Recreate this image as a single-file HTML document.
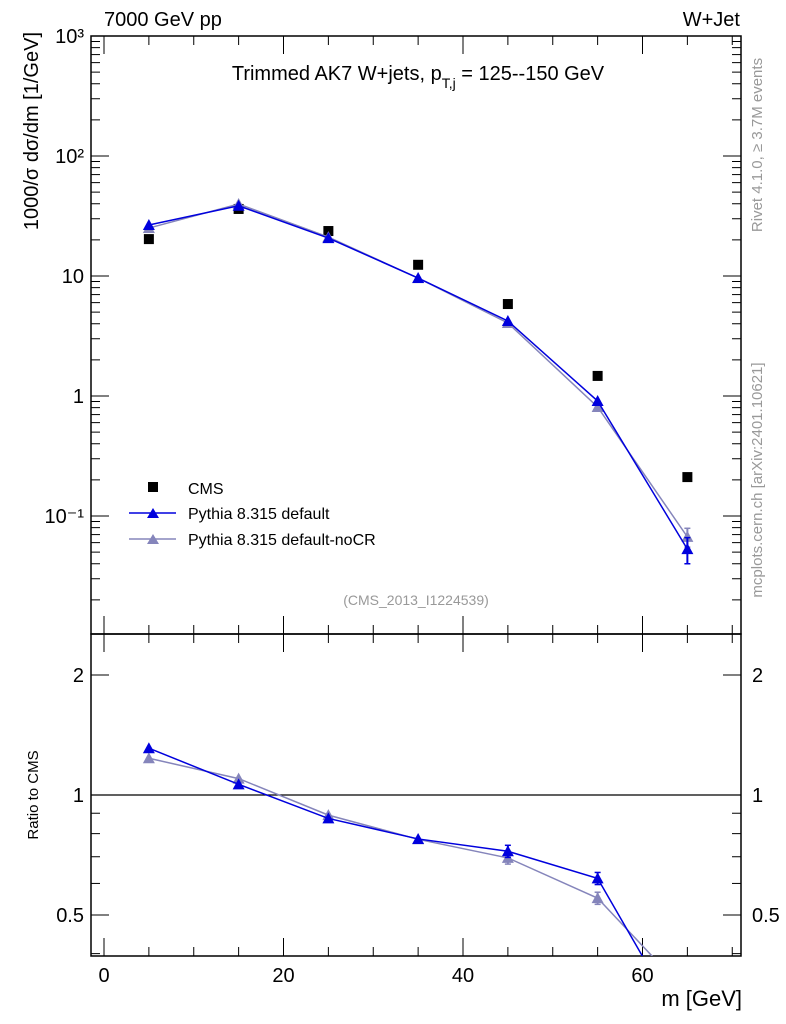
<!DOCTYPE html>
<html><head><meta charset="utf-8"><style>
html,body{margin:0;background:#fff;overflow:hidden;width:786px;height:1024px;}
svg{display:block;}
svg text{font-family:"Liberation Sans",sans-serif;}
</style></head><body>
<svg id="chart" width="786" height="1024" viewBox="0 0 786 1024" xmlns="http://www.w3.org/2000/svg">
<g id="axes"></g><g id="marks"></g>
<text x="104" y="26" font-size="20">7000 GeV pp</text>
<text x="740" y="26" font-size="20" text-anchor="end">W+Jet</text>
<text x="418" y="80" font-size="20" text-anchor="middle">Trimmed AK7 W+jets, p<tspan font-size="14" dy="8">T,j</tspan><tspan dy="-8"> = 125--150 GeV</tspan></text>
<text x="416" y="605" font-size="14" fill="#999" text-anchor="middle">(CMS_2013_I1224539)</text>
<text transform="translate(38,32) rotate(-90)" font-size="20" text-anchor="end" x="0" y="0">1000/σ  dσ/dm [1/GeV]</text>
<text transform="translate(38,795) rotate(-90)" font-size="15" text-anchor="middle">Ratio to CMS</text>
<text x="742" y="1006" font-size="22" text-anchor="end">m [GeV]</text>
<text transform="translate(762,145) rotate(-90)" font-size="15" fill="#999" text-anchor="middle">Rivet 4.1.0, ≥ 3.7M events</text>
<text transform="translate(762,480) rotate(-90)" font-size="15" fill="#999" text-anchor="middle">mcplots.cern.ch [arXiv:2401.10621]</text>
<g>
<rect x="148" y="482" width="10" height="10" fill="#000"/>
<text x="188" y="494" font-size="16">CMS</text>
<line x1="129" y1="513" x2="176" y2="513" stroke="#0000dd" stroke-width="1.5"/>
<path d="M147,518 L153,508 L159,518 Z" fill="#0000dd"/>
<text x="188" y="519" font-size="16">Pythia 8.315 default</text>
<line x1="129" y1="539" x2="176" y2="539" stroke="#8585bb" stroke-width="1.5"/>
<path d="M147,544 L153,534 L159,544 Z" fill="#8585bb"/>
<text x="188" y="545" font-size="16">Pythia 8.315 default-noCR</text>
</g>
</svg>
<script>
const xs=[5,15,25,35,45,55,65];
const cms=[20.3,36.2,23.7,12.4,5.84,1.47,0.211];
const pyDef=[26.6,38.5,20.7,9.62,4.22,0.908,0.053];
const pyNoCR=[25.1,39.8,21.1,9.6,4.06,0.81,0.067];
const pyDefErr=[0,0,0,0,0,0,0.013];
const pyNoCRErr=[0,0,0,0,0,0,0.012];
const xTicks=[0,20,40,60];
const yTicks=[1000,100,10,1,0.1];
const yTickLabels=["10³","10²","10","1","10⁻¹"];
const rTicks=[2,1,0.5];
const rTickLabels=["2","1","0.5"];

const NS="http://www.w3.org/2000/svg";
const L=91,R=741,T=36,MB=634,RB=956;
const X=v=>104+v*8.975;
const Y=v=>396-120*Math.log10(v);
const RY=v=>795-398.6*Math.log10(v);
const ax=document.getElementById('axes'),mk=document.getElementById('marks');
function el(p,tag,a){const e=document.createElementNS(NS,tag);for(const k in a)e.setAttribute(k,a[k]);p.appendChild(e);return e;}
function ln(p,x1,y1,x2,y2,c,w){return el(p,'line',{x1,y1,x2,y2,stroke:c||'#000','stroke-width':w||1});}
const f1=el(ax,'rect',{x:L,y:T,width:R-L,height:MB-T,fill:'none',stroke:'#000','stroke-width':1.5});


const f2=el(ax,'rect',{x:L,y:MB,width:R-L,height:RB-MB,fill:'none',stroke:'#000','stroke-width':1.5});


for(let v=0;v<=70;v+=5){const maj=v%20===0,len=maj?18:9,x=X(v);
 ln(ax,x,RB,x,RB-len);ln(ax,x,MB,x,MB-len);ln(ax,x,MB,x,MB+len);ln(ax,x,T,x,T+len);}
xTicks.forEach(v=>{const t=el(ax,'text',{x:X(v),y:982,'font-size':20,'text-anchor':'middle'});t.textContent=v;
 
 });
for(let d=-2;d<3;d++)for(let m=1;m<10;m++){const v=m*Math.pow(10,d),y=Y(v);if(y<T||y>MB)continue;const len=m===1?18:9;
 ln(ax,L,y,L+len,y);ln(ax,R,y,R-len,y);}
yTicks.forEach((v,i)=>{const t=el(ax,'text',{x:84,y:Y(v)+7,'font-size':20,'text-anchor':'end'});t.textContent=yTickLabels[i];
 
 });
[0.4,0.5,0.6,0.7,0.8,0.9,1,2].forEach(v=>{const y=RY(v);const maj=(v===0.5||v===1||v===2);const len=maj?18:9;ln(ax,L,y,L+len,y);ln(ax,R,y,R-len,y);});
rTicks.forEach((v,i)=>{[84,752].forEach((x,j)=>{const t=el(ax,'text',{x,y:RY(v)+7,'font-size':20,'text-anchor':j?'start':'end'});t.textContent=rTickLabels[i];
 
 });});
const one=ln(ax,L,RY(1),R,RY(1),'#000',1.2);


const defs=el(mk,'defs',{});
const cp=el(defs,'clipPath',{id:'rc'});el(cp,'rect',{x:L,y:MB,width:R-L,height:RB-MB});
const cp2=el(defs,'clipPath',{id:'mc'});el(cp2,'rect',{x:L,y:T,width:R-L,height:MB-T});
function tri(p,x,y,c){return el(p,'path',{d:`M${x-6},${y+5} L${x},${y-6} L${x+6},${y+5} Z`,fill:c});}
function series(vals,errs,c,name){
 const g=el(mk,'g',{'clip-path':'url(#mc)'});
 
 
 el(g,'polyline',{points:xs.map((x,i)=>X(x)+','+Y(vals[i])).join(' '),fill:'none',stroke:c,'stroke-width':1.5});
 xs.forEach((x,i)=>{if(errs[i]>0){const y1=Y(vals[i]+errs[i]),y2=Y(vals[i]-errs[i]);ln(g,X(x),y1,X(x),y2,c,2);ln(g,X(x)-3,y1,X(x)+3,y1,c,1.5);ln(g,X(x)-3,y2,X(x)+3,y2,c,1.5);}
  const m=tri(g,X(x),Y(vals[i]),c);
  
  });
 const r=vals.map((v,i)=>v/cms[i]);
 const gr=el(mk,'g',{'clip-path':'url(#rc)'});
 
 
 el(gr,'polyline',{points:xs.map((x,i)=>X(x)+','+RY(r[i])).join(' '),fill:'none',stroke:c,'stroke-width':1.5});
 xs.forEach((x,i)=>{const e=errs[i]>0?errs[i]/cms[i]:0.035*r[i]*(i>=4?1:0);
  if(e>0){const y1=RY(r[i]+e),y2=RY(r[i]-e);ln(gr,X(x),y1,X(x),y2,c,2);ln(gr,X(x)-3,y1,X(x)+3,y1,c,1.5);ln(gr,X(x)-3,y2,X(x)+3,y2,c,1.5);}
  tri(gr,X(x),RY(r[i]),c);});
}
xs.forEach((x,i)=>{const r=el(mk,'rect',{x:X(x)-5,y:Y(cms[i])-5,width:10,height:10,fill:'#000'});
 
 });
series(pyNoCR,pyNoCRErr,'#8585bb','pythia-nocr');
series(pyDef,pyDefErr,'#0000dd','pythia-default');
</script>
</body></html>
